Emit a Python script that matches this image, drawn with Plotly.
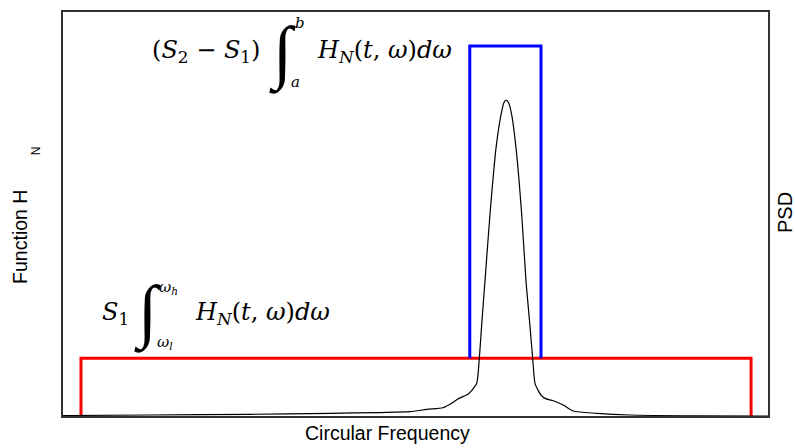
import plotly.graph_objects as go

# Frequency-response curve (arbitrary units)
curve_x = [0, 1.234, 2.652, 3.787, 4.496, 4.922, 5.163, 5.390, 5.518, 5.589, 5.674, 5.745,
           5.801, 5.868, 5.905, 5.943, 5.986, 6.057, 6.142, 6.213, 6.255, 6.284, 6.319, 6.364,
           6.426, 6.506, 6.567, 6.617, 6.662, 6.695, 6.738, 6.780, 6.837, 6.955, 7.096, 7.238,
           7.574, 8.043, 8.993, 10.0]
curve_y = [0.0012, 0.0025, 0.0042, 0.0067, 0.0086, 0.0106, 0.0165, 0.0204, 0.032, 0.0411,
           0.048, 0.054, 0.064, 0.081, 0.143, 0.236, 0.335, 0.500, 0.663, 0.746, 0.776, 0.782,
           0.776, 0.746, 0.663, 0.500, 0.335, 0.236, 0.143, 0.081, 0.064, 0.052, 0.0436, 0.0377,
           0.0271, 0.0123, 0.0067, 0.0025, 0.0005, 0.0]

# Wide band (S1 over [omega_l, omega_h])
wide_x = [0.255, 0.255, 9.76, 9.76]
wide_y = [0.0, 0.143, 0.143, 0.0]

# Narrow band ((S2 - S1) over [a, b])
narrow_x = [5.77, 5.77, 6.78, 6.78]
narrow_y = [0.143, 0.916, 0.916, 0.143]

fig = go.Figure()
fig.add_trace(go.Scatter(x=wide_x, y=wide_y, mode="lines",
                         line=dict(color="#ff0000", width=3), hoverinfo="skip"))
fig.add_trace(go.Scatter(x=narrow_x, y=narrow_y, mode="lines",
                         line=dict(color="#0000ff", width=3), hoverinfo="skip"))
fig.add_trace(go.Scatter(x=curve_x, y=curve_y, mode="lines",
                         line=dict(color="#000000", width=1.2, shape="spline", smoothing=0.7),
                         hoverinfo="skip"))

SERIF = "DejaVu Serif, Liberation Serif, serif"
LSERIF = "Liberation Serif, serif"
SANS = "Liberation Sans, Arial, sans-serif"

def px(x):
    return (x - 63) / 705

def py(y):
    return (416 - y) / 406

ann = []
def add(text, x, y, size, font=SERIF, xanchor="left", yanchor="middle", angle=0):
    ann.append(dict(text=text, x=px(x), y=py(y), xref="paper", yref="paper", showarrow=False,
                    xanchor=xanchor, yanchor=yanchor, textangle=angle,
                    font=dict(family=font, size=size, color="black")))

# Top formula
add("(<i>S</i><sub>2</sub> − <i>S</i><sub>1</sub>)", 150, 50, 24)
add("<i>∫</i>", 267, 52, 70, LSERIF)
add("<i>b</i>", 293, 21, 15)
add("<i>a</i>", 289, 80, 15)
add("<i>H</i><sub><i>N</i></sub>(<i>t</i>, <i>ω</i>)<i>dω</i>", 315, 50, 24)

# Bottom formula
add("<i>S</i><sub>1</sub>", 100, 313, 24)
add("<i>∫</i>", 132, 312, 70, LSERIF)
add("<i>ω</i><sub><i>h</i></sub>", 157, 287, 15)
add("<i>ω</i><sub><i>l</i></sub>", 155, 342, 15)
add("<i>H</i><sub><i>N</i></sub>(<i>t</i>, <i>ω</i>)<i>dω</i>", 193, 313, 24)

# Axis titles
add("Function H", 20, 236, 19.5, SANS, "center", "middle", -90)
add("N", 36, 150, 12, SANS, "center", "middle", -90)
add("PSD", 785, 212, 20, SANS, "center", "middle", -90)
add("Circular Frequency", 387, 433, 19.5, SANS, "center", "middle", 0)

fig.update_layout(
    width=795, height=448,
    margin=dict(l=63, r=27, t=10, b=32),
    paper_bgcolor="white", plot_bgcolor="white",
    showlegend=False,
    annotations=ann,
    xaxis=dict(range=[0, 10], showgrid=False, zeroline=False, showticklabels=False,
               ticks="", showline=True, mirror=True, linecolor="#333333", linewidth=1.5),
    yaxis=dict(range=[0, 1], showgrid=False, zeroline=False, showticklabels=False,
               ticks="", showline=True, mirror=True, linecolor="#333333", linewidth=1.5),
)

fig.write_html("out.html")
